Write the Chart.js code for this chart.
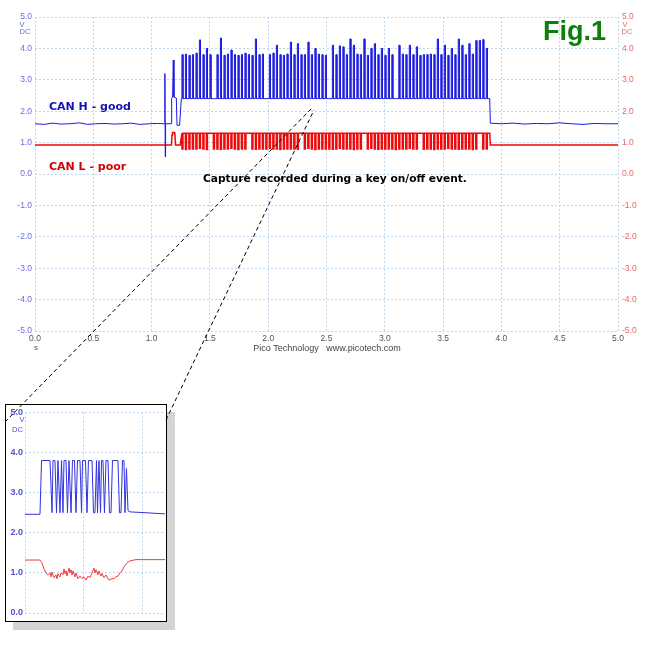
<!DOCTYPE html>
<html><head><meta charset="utf-8">
<script src="https://cdn.jsdelivr.net/npm/chart.js@4.4.0/dist/chart.umd.min.js"></script>
<style>
html,body{margin:0;padding:0;background:#fff;}
#wrap{position:relative;width:646px;height:645px;overflow:hidden;}
.lbl{position:absolute;white-space:nowrap;line-height:1;transform:translateY(-50%);}
.ctr{transform:translate(-50%,-50%);}
#main{position:absolute;left:0;top:0;}
#insetBox{position:absolute;left:5px;top:404px;width:160px;height:216px;border:1px solid #000;background:#fff;box-shadow:8px 8px 0 #d4d4d4;}
#inset{position:absolute;left:0;top:0;}
svg{position:absolute;left:0;top:0;pointer-events:none;}
.sans{font-family:"Liberation Sans",Arial,sans-serif;}
.verd{font-family:"DejaVu Sans",Verdana,sans-serif;font-weight:bold;}
</style></head>
<body><div id="wrap">
<canvas id="main" width="646" height="360"></canvas>
<div id="insetBox"><canvas id="inset" width="160" height="216"></canvas></div>

<div class="lbl ctr sans" style="left:22px;top:25px;font-size:7.5px;color:#6a6ae6;">V</div>
<div class="lbl ctr sans" style="left:25px;top:32px;font-size:7.5px;color:#6a6ae6;">DC</div>
<div class="lbl ctr sans" style="left:625px;top:24.5px;font-size:7.5px;color:#e66a6a;">V</div>
<div class="lbl ctr sans" style="left:627px;top:32px;font-size:7.5px;color:#e66a6a;">DC</div>
<div class="lbl ctr sans" style="left:22px;top:420px;font-size:7.5px;color:#5050d8;">V</div>
<div class="lbl ctr sans" style="left:17.5px;top:430px;font-size:7.5px;color:#5050d8;">DC</div>

<div class="lbl verd" style="left:49px;top:106px;font-size:11px;color:#1414b4;">CAN H - good</div>
<div class="lbl verd" style="left:49px;top:166px;font-size:11px;color:#d20000;">CAN L - poor</div>
<div class="lbl verd" style="left:203px;top:178.5px;font-size:10.65px;color:#000;">Capture recorded during a key on/off event.</div>
<div class="lbl sans" style="left:543px;top:30.5px;font-size:27px;font-weight:bold;color:#0b800b;">Fig.1</div>
<div class="lbl ctr sans" style="left:36px;top:348px;font-size:8px;color:#555;">s</div>
<div class="lbl ctr sans" style="left:327px;top:348px;font-size:9px;color:#444;">Pico Technology&nbsp;&nbsp;&nbsp;www.picotech.com</div>

<svg width="646" height="645">
<line x1="5" y1="422" x2="311" y2="109" stroke="#000" stroke-width="1" stroke-dasharray="4 3"/>
<line x1="166" y1="420" x2="314" y2="110" stroke="#000" stroke-width="1" stroke-dasharray="4 3"/>
</svg>
</div>
<script>
// ---- tick labels ----
const timeLabels = ['0.0','0.5','1.0','1.5','2.0','2.5','3.0','3.5','4.0','4.5','5.0'];
const voltLabels = ['-5.0','-4.0','-3.0','-2.0','-1.0','0.0','1.0','2.0','3.0','4.0','5.0'];
const insetVoltLabels = ['0.0','1.0','2.0','3.0','4.0','5.0'];

// ---- CAN H (blue), main capture: seconds / volts ----
const canHLeadT = [0,0.08,0.15,0.22,0.3,0.38,0.45,0.52,0.6,0.68,0.75,0.82,0.9,0.98,1.05,1.11,1.114,1.117,1.12,1.17,1.172,1.18,1.186,1.192,1.212,1.218,1.24,1.255];
const canHLeadV = [1.6,1.58,1.62,1.59,1.6,1.63,1.58,1.6,1.61,1.59,1.6,1.62,1.58,1.6,1.61,1.6,3.2,0.55,1.6,1.6,2.4,2.45,3.63,2.45,2.42,1.55,1.55,2.4];
const burstStart = 1.26;   // s
const burstSlot = 0.03;    // s per frame slot
const canHBurstBase = 2.4;
const canHBurstTops = [
 3.8,3.82,3.78,3.8,3.85,4.27,3.8,4.0,3.8,2.4,
 3.8,4.33,3.78,3.82,3.95,3.8,3.78,3.8,3.85,3.8,
 3.78,4.3,3.8,3.82,2.4,3.8,3.85,4.1,3.8,3.78,
 3.82,4.2,3.8,4.15,3.8,3.8,4.2,3.8,4.0,3.82,
 3.8,3.78,2.4,4.1,3.8,4.08,4.05,3.8,4.3,4.1,
 3.82,3.8,4.3,3.78,4.0,4.15,3.8,4.0,3.78,4.0,
 3.8,2.4,4.1,3.82,3.8,4.1,3.8,4.05,3.78,3.8,
 3.8,3.82,3.8,4.3,3.8,4.1,3.78,4.0,3.8,4.3,
 4.1,3.8,4.15,3.82,4.25,4.25,4.28,4.0];
const canHTailT = [3.9,3.905,4.0,4.1,4.2,4.3,4.4,4.5,4.6,4.7,4.8,4.9,5.0];
const canHTailV = [2.4,1.62,1.6,1.62,1.59,1.61,1.6,1.63,1.6,1.58,1.61,1.6,1.6];

// ---- CAN L (red), main capture ----
const canLLeadT = [0,1.17,1.175,1.18,1.195,1.2,1.205,1.245,1.26];
const canLLeadV = [0.92,0.92,1.25,1.32,1.32,1.25,0.92,0.92,1.3];
const canLBurstHigh = 1.3;
const canLBurstLows = [
 0.8,0.78,0.8,0.8,0.8,0.82,0.8,0.78,1.3,0.8,
 0.8,0.79,0.8,0.8,0.82,0.8,0.78,0.8,0.8,1.3,
 0.8,0.79,0.8,0.8,0.8,0.82,0.8,0.8,0.78,0.8,
 0.8,0.8,0.8,0.79,1.3,0.8,0.82,0.8,0.78,0.8,
 0.8,0.8,0.8,0.79,0.8,0.82,0.8,0.8,0.8,0.78,
 0.8,0.8,1.3,0.8,0.82,0.8,0.79,0.8,0.8,0.8,
 0.8,0.78,0.8,0.8,0.8,0.82,0.8,0.8,1.3,0.79,
 0.8,0.8,0.78,0.8,0.8,0.8,0.82,0.8,0.8,0.79,
 0.8,0.8,0.8,0.78,0.8,1.3,0.8,0.8];
const canLTailT = [3.9,3.905,5.0];
const canLTailV = [1.3,0.92,0.92];

// ---- Inset (zoomed frame), x in grid divisions ----
const insetHT = [0,0.254,0.280,0.424,0.458,0.475,0.508,0.534,0.559,0.593,0.619,0.644,0.661,0.695,0.720,0.746,0.780,0.805,0.839,0.864,0.890,0.932,0.958,0.975,1.025,1.051,1.076,1.136,1.161,1.186,1.212,1.229,1.254,1.280,1.297,1.322,1.347,1.373,1.407,1.432,1.458,1.483,1.576,1.602,1.627,1.653,1.678,1.695,1.720,1.746,1.780,2.034,2.373];
const insetHV = [2.46,2.46,3.8,3.8,2.5,3.8,3.8,2.5,3.8,2.5,3.8,2.5,3.8,3.8,2.5,3.8,2.5,3.8,3.8,2.5,3.8,3.8,2.5,3.8,3.8,2.5,3.8,3.8,2.5,2.5,3.8,2.5,3.8,2.5,3.8,3.8,2.5,3.8,3.8,2.5,2.5,3.8,3.8,2.5,2.5,3.8,3.8,2.5,3.6,2.55,2.52,2.5,2.47];
const insetLT = [0,0.254,0.288,0.322,0.356,0.390,0.424,0.441,0.458,0.492,0.525,0.542,0.559,0.593,0.610,0.644,0.661,0.678,0.695,0.712,0.746,0.763,0.780,0.797,0.814,0.847,0.864,0.898,0.932,0.966,1.0,1.034,1.068,1.102,1.136,1.169,1.186,1.203,1.237,1.254,1.288,1.305,1.339,1.373,1.407,1.441,1.475,1.508,1.542,1.576,1.610,1.644,1.678,1.729,1.780,1.881,2.373];
const insetLV = [1.32,1.32,1.25,1.1,1.0,0.95,1.0,0.9,1.02,0.88,0.95,0.85,0.98,0.9,1.0,0.95,1.1,0.98,1.05,0.92,1.12,1.0,1.08,0.95,1.05,0.9,1.0,0.85,0.92,0.86,0.9,0.82,0.92,0.88,1.0,1.12,1.0,1.08,0.95,1.05,0.92,0.98,0.88,0.95,0.85,0.82,0.86,0.85,0.9,0.92,1.0,1.05,1.15,1.25,1.3,1.33,1.33];

// ---- build point lists ----
function pairs(ts, vs){ return ts.map((t,i)=>({x:t,y:vs[i]})); }
// each slot: signal leaves `rest`, holds `level` for `frac` of the slot, returns to `rest`
function burst(start, slot, frac, rest, levels){
  const pts=[];
  levels.forEach((lv,i)=>{
    const t=start+i*slot;
    pts.push({x:t,y:rest},{x:t,y:lv},{x:t+slot*frac,y:lv},{x:t+slot*frac,y:rest});
  });
  return pts;
}
const canH = pairs(canHLeadT,canHLeadV).concat(burst(burstStart,burstSlot,0.3,canHBurstBase,canHBurstTops), pairs(canHTailT,canHTailV));
const canL = pairs(canLLeadT,canLLeadV).concat(burst(burstStart,burstSlot,0.3,canLBurstHigh,canLBurstLows), pairs(canLTailT,canLTailV));

const gridCol = '#bcd6ee';
const tickFont = {family:'Liberation Sans', size:8.5};

new Chart(document.getElementById('main'), {
  type:'line',
  data:{datasets:[
    {data:canH, borderColor:'rgb(25,25,225)', borderWidth:1, pointRadius:0, tension:0, fill:false},
    {data:canL, borderColor:'rgb(238,10,10)', borderWidth:1.5, pointRadius:0, tension:0, fill:false}
  ]},
  options:{
    responsive:false, animation:false, events:[],
    layout:{padding:{top:17,left:0,right:0,bottom:0}},
    plugins:{legend:{display:false}, tooltip:{enabled:false}},
    scales:{
      x:{type:'linear', min:0, max:5,
         ticks:{stepSize:0.5, callback:(v,i)=>timeLabels[i], font:tickFont, color:'#555', padding:3, maxRotation:0, autoSkip:false},
         grid:{color:gridCol, drawTicks:false}, border:{display:false, dash:[2,2]},
         afterFit:s=>{s.height=29;}},
      y:{min:-5, max:5,
         ticks:{stepSize:1, callback:(v,i)=>voltLabels[i], font:tickFont, color:'#6a6ae6', padding:3},
         grid:{color:gridCol, drawTicks:false}, border:{display:false, dash:[2,2]},
         afterFit:s=>{s.width=35;}},
      y2:{position:'right', min:-5, max:5,
         ticks:{stepSize:1, callback:(v,i)=>voltLabels[i], font:tickFont, color:'#e66a6a', padding:4},
         grid:{drawOnChartArea:false, drawTicks:false}, border:{display:false},
         afterFit:s=>{s.width=28;}}
    }
  }
});

new Chart(document.getElementById('inset'), {
  type:'line',
  data:{datasets:[
    {data:pairs(insetHT,insetHV), borderColor:'rgb(50,50,225)', borderWidth:1, pointRadius:0, tension:0, fill:false},
    {data:pairs(insetLT,insetLV), borderColor:'rgb(240,60,60)', borderWidth:1, pointRadius:0, tension:0, fill:false}
  ]},
  options:{
    responsive:false, animation:false, events:[],
    layout:{padding:{top:5,left:0,right:1,bottom:0}},
    plugins:{legend:{display:false}, tooltip:{enabled:false}},
    scales:{
      x:{type:'linear', min:0, max:2.373,
         ticks:{display:false, stepSize:1, includeBounds:false},
         grid:{color:gridCol, drawTicks:false}, border:{display:false, dash:[2,2]},
         afterFit:s=>{s.height=8;}},
      y:{min:0, max:5,
         ticks:{stepSize:1, callback:(v,i)=>insetVoltLabels[i], font:{family:'Liberation Sans', size:9, weight:'bold'}, color:'#5050d8', padding:2},
         grid:{color:gridCol, drawTicks:false}, border:{display:false, dash:[2,2]},
         afterFit:s=>{s.width=19;}}
    }
  }
});
</script>
</body></html>
